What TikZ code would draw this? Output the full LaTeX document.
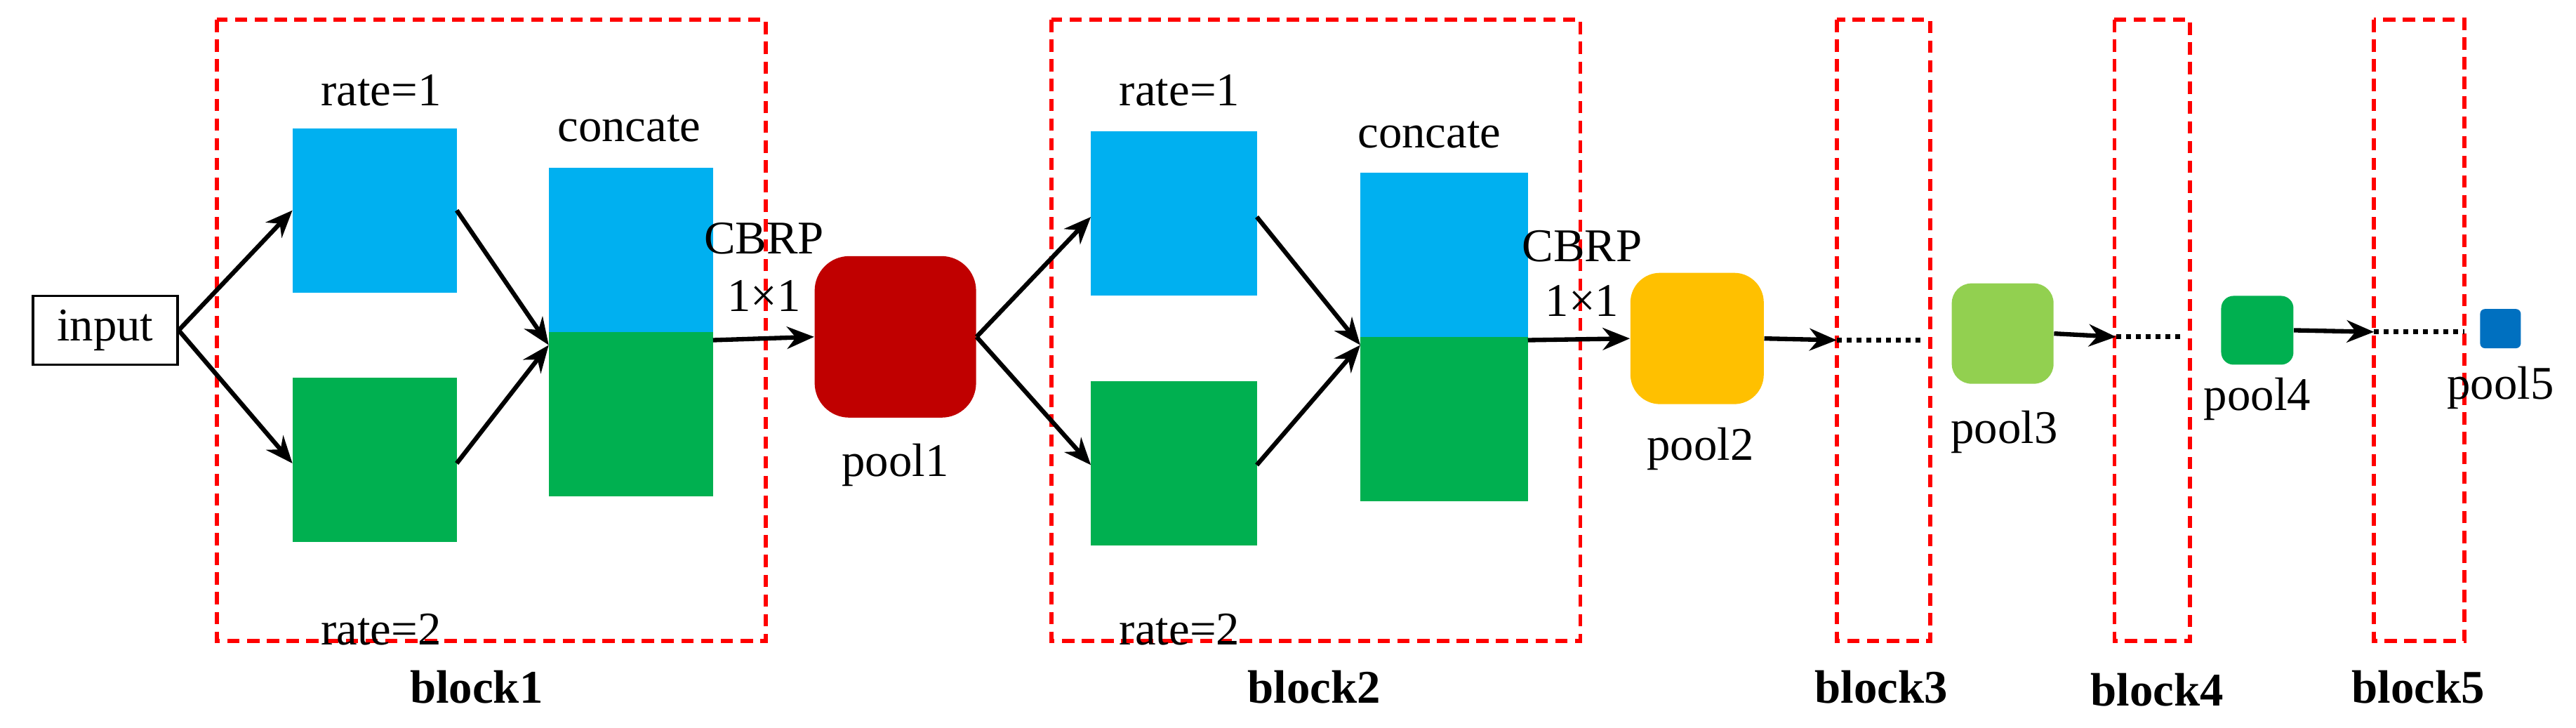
\documentclass[tikz,border=0pt]{standalone}
\usepackage{fontspec}
\setmainfont{Liberation Serif}
\usetikzlibrary{arrows.meta,positioning}
\definecolor{cb}{HTML}{00B0F0}
\definecolor{cg}{HTML}{00B050}
\definecolor{cr}{HTML}{C00000}
\definecolor{co}{HTML}{FFC000}
\definecolor{cl}{HTML}{92D050}
\definecolor{cd}{HTML}{0070C0}
\begin{document}
\begin{tikzpicture}[x=0.0234cm,y=-0.0234cm,
  txt/.style={font=\fontsize{19}{22}\selectfont,inner sep=0pt},
  lbl/.style={font=\fontsize{19}{22}\selectfont\bfseries,inner sep=0pt},
  blk/.style={draw=red,dashed,line width=1.6pt,dash pattern=on 5pt off 3pt},
  ar/.style={-{Stealth[length=11pt,width=9pt]},line width=1.8pt},
  dot/.style={line width=2pt,dotted},
  sq/.style={inner sep=0pt}]
\useasboundingbox (0,0) rectangle (1568,443);
% input
\node[draw,line width=1pt,minimum width=88\pgflinewidth,txt,inner sep=0pt,minimum width=2.06cm,minimum height=0.98cm] (in) at (64,201) {input};
% block1
\draw[blk] (132,12) rectangle (466,390);
\node[lbl] (b1) at (290,418) {block1};
\fill[cb] (178,78) rectangle (278,178); \coordinate (a1) at (178,128); \coordinate (a1r) at (278,128);
\fill[cg] (178,230) rectangle (278,330); \coordinate (a2) at (178,282); \coordinate (a2r) at (278,282);
\node[txt] (r1) at (232,55) {rate=1};
\node[txt] (r2) at (232,383) {rate=2};
\fill[cb] (334,102) rectangle (434,202);
\fill[cg] (334,202) rectangle (434,302);
\coordinate (c1) at (334,210); \coordinate (c1r) at (434,207);
\node[txt] (cc1) at (383,78) {concate};
\node[txt] (cb1) at (465,145) {CBRP};
\node[txt] (x1) at (465,180) {1\texttimes1};
\node[sq,fill=cr,rounded corners=14pt,minimum width=2.3cm,minimum height=2.3cm] (p1) at (545,205) {};
\node[txt] (p1l) at (545,283) {pool1};
\draw[ar] (in.east) -- (a1);
\draw[ar] (in.east) -- (a2);
\draw[ar] (a1r) -- (c1);
\draw[ar] (a2r) -- (c1);
\draw[ar] (c1r) -- (p1.west);
% block2
\draw[blk] (640,12) rectangle (962,390);
\node[lbl] (b2) at (800,418) {block2};
\fill[cb] (664,80) rectangle (765,180); \coordinate (d1) at (664,132); \coordinate (d1r) at (765,132);
\fill[cg] (664,232) rectangle (765,332); \coordinate (d2) at (664,283); \coordinate (d2r) at (765,283);
\node[txt] (s1) at (718,55) {rate=1};
\node[txt] (s2) at (718,383) {rate=2};
\fill[cb] (828,105) rectangle (930,205);
\fill[cg] (828,205) rectangle (930,305);
\coordinate (c2) at (828,210); \coordinate (c2r) at (930,207);
\node[txt] (cc2) at (870,82) {concate};
\node[txt] (cb2) at (963,150) {CBRP};
\node[txt] (x2) at (963,183) {1\texttimes1};
\draw[ar] (p1.east) -- (d1);
\draw[ar] (p1.east) -- (d2);
\draw[ar] (d1r) -- (c2);
\draw[ar] (d2r) -- (c2);
\node[sq,fill=co,rounded corners=12pt,minimum width=1.9cm,minimum height=1.87cm] (p2) at (1033,206) {};
\node[txt] (p2l) at (1035,273) {pool2};
\draw[ar] (c2r) -- (p2.west);
% block3
\draw[blk] (1118,12) rectangle (1175,390);
\node[lbl] (b3) at (1145,418) {block3};
\coordinate (e3) at (1118,207); \coordinate (f3) at (1170,207);
\draw[ar] (p2.east) -- (e3);
\draw[dot] (e3) -- (f3);
\node[sq,fill=cl,rounded corners=8pt,minimum width=1.45cm,minimum height=1.43cm] (p3) at (1219,203) {};
\node[txt] (p3l) at (1220,263) {pool3};
% block4
\draw[blk] (1287,12) rectangle (1333,390);
\node[lbl] (b4) at (1313,420) {block4};
\coordinate (e4) at (1288,205); \coordinate (f4) at (1330,205);
\draw[ar] (p3.east) -- (e4);
\draw[dot] (e4) -- (f4);
\node[sq,fill=cg,rounded corners=5pt,minimum width=1.03cm,minimum height=0.98cm] (p4) at (1374,201) {};
\node[txt] (p4l) at (1374,243) {pool4};
% block5
\draw[blk] (1445,12) rectangle (1500,390);
\node[lbl] (b5) at (1472,418) {block5};
\coordinate (e5) at (1445,202); \coordinate (f5) at (1500,202);
\draw[ar] (p4.east) -- (e5);
\draw[dot] (e5) -- (f5);
\node[sq,fill=cd,rounded corners=2pt,minimum width=0.58cm,minimum height=0.56cm] (p5) at (1522,200) {};
\node[txt] (p5l) at (1522,236) {pool5};
\end{tikzpicture}
\end{document}
